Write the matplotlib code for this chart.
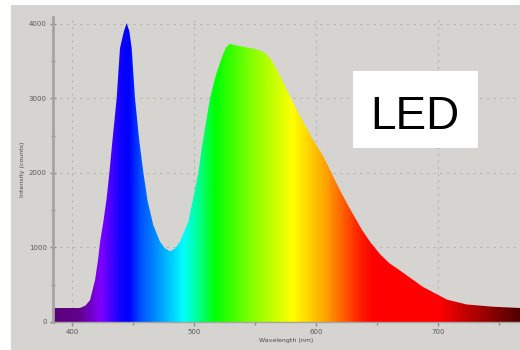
import matplotlib
matplotlib.use('Agg')
import matplotlib.pyplot as plt
import numpy as np
from matplotlib.colors import LinearSegmentedColormap, Normalize
from matplotlib.patches import Polygon, Rectangle
from matplotlib.ticker import MultipleLocator

# ===== DATA =====
wavelength = [384.4, 406.6, 411.0, 414.8, 418.9, 421.3, 423.0, 425.7, 428.4, 430.6,
              432.5, 436.6, 439.3, 442.5, 444.8, 447.0, 448.9, 451.6, 455.0, 458.5,
              462.0, 466.6, 472.1, 476.0, 480.3, 484.5, 488.5, 495.3, 499.4, 503.5,
              506.3, 513.1, 518.0, 522.7, 526.0, 529.5, 535.0, 541.8, 548.0, 554.1,
              559.0, 563.5, 568.5, 576.0, 584.2, 589.3, 597.0, 605.7, 611.5, 618.0,
              625.4, 637.7, 645.0, 652.5, 660.0, 668.9, 687.7, 707.4, 723.5, 745.0,
              767.2]
counts = [188, 188, 220, 295, 564, 832, 1078, 1346, 1664, 2000,
          2332, 3003, 3674, 3900, 4010, 3900, 3674, 3003, 2450, 2000,
          1620, 1300, 1078, 990, 950, 985, 1078, 1346, 1664, 2000,
          2332, 3003, 3320, 3544, 3680, 3735, 3710, 3690, 3670, 3645,
          3600, 3510, 3370, 3114, 2846, 2690, 2460, 2230, 2040, 1820,
          1590, 1235, 1060, 910, 790, 690, 470, 300, 235, 205,
          188]

y_ticks = [0, 1000, 2000, 3000, 4000]
x_ticks = [400, 500, 600, 700]

# colour of the spectrum along the wavelength axis
spec_stops = [(384, '#5a0078'), (406, '#62008e'), (423, '#8000ff'), (439, '#1000ff'),
              (446, '#0000ff'), (456, '#0050ff'), (472, '#00a0ff'), (491, '#00ffff'),
              (505, '#00ff80'), (517, '#00ff00'), (546, '#80ff00'), (581, '#ffff00'),
              (595, '#ffd000'), (609, '#ffa000'), (622, '#ff6000'), (636, '#ff2000'),
              (647, '#ff0000'), (702, '#ff0000'), (718, '#d00000'), (743, '#900000'),
              (768, '#500000')]

BG = '#d5d4d0'
W, H = 520, 350

fig = plt.figure(figsize=(5.2, 3.5), dpi=100)
fig.patch.set_facecolor('white')
fig.add_artist(Rectangle((11 / W, 0), 1, 345 / H, transform=fig.transFigure,
                         facecolor=BG, edgecolor='none', zorder=0))

ax = fig.add_axes([53 / W, 28 / H, 467 / W, (322 - 16.5) / H])
ax.set_facecolor(BG)

xmin, xmax = wavelength[0], wavelength[-1]
ymax = 4100
ax.set_xlim(xmin, xmax)
ax.set_ylim(0, ymax)

# ===== GRADIENT FILL CLIPPED BY THE CURVE =====
lo, hi = spec_stops[0][0], spec_stops[-1][0]
cmap = LinearSegmentedColormap.from_list(
    'spec', [((w - lo) / (hi - lo), c) for w, c in spec_stops])
xs = np.linspace(xmin, xmax, 1000)
im = ax.imshow(xs[np.newaxis, :], extent=[xmin, xmax, 0, ymax], aspect='auto',
               cmap=cmap, norm=Normalize(lo, hi), origin='lower', zorder=2,
               interpolation='bilinear')
verts = [(wavelength[0], 0)] + list(zip(wavelength, counts)) + [(wavelength[-1], 0)]
shape = Polygon(verts, closed=True, facecolor='none', edgecolor='none',
                transform=ax.transData)
ax.add_patch(shape)
im.set_clip_path(shape)

# ===== AXES DECORATION =====
ax.set_yticks(y_ticks)
ax.set_xticks(x_ticks)
ax.yaxis.set_minor_locator(MultipleLocator(500))
ax.xaxis.set_minor_locator(MultipleLocator(50))
ax.tick_params(axis='both', which='both', labelsize=5, colors='#8a8a8a',
               labelcolor='#5a5a5a', width=1)
ax.tick_params(axis='y', which='major', direction='inout', length=5, pad=2)
ax.tick_params(axis='y', which='minor', direction='inout', length=3)
ax.tick_params(axis='x', which='major', direction='out', length=3, pad=2)
ax.tick_params(axis='x', which='minor', direction='out', length=2)

ax.grid(True, which='major', color='#b4b4b0', linestyle=(0, (2, 4)), linewidth=0.8)
ax.set_axisbelow(True)

for s in ['top', 'right']:
    ax.spines[s].set_visible(False)
ax.spines['left'].set_color('#a4a4a0')
ax.spines['left'].set_linewidth(2)
ax.spines['bottom'].set_color('#a4a4a0')
ax.spines['bottom'].set_linewidth(1)

ax.set_ylabel('Intensity (counts)', fontsize=4.5, color='#4a4a4a')
ax.yaxis.set_label_coords((25 - 53) / 467, 0.5)
ax.set_xlabel('Wavelength (nm)', fontsize=4.5, color='#4a4a4a')
ax.xaxis.set_label_coords(0.5, -16 / 305.5)

# ===== LED LABEL =====
fig.add_artist(Rectangle((353 / W, 1 - 148 / H), 125 / W, 77 / H,
                         transform=fig.transFigure, facecolor='white',
                         edgecolor='none', zorder=5))
fig.text(415 / W, 1 - 129 / H, 'LED', fontsize=33, color='black',
         family=['Liberation Sans', 'DejaVu Sans'],
         ha='center', va='baseline', zorder=6)

plt.savefig('out.png', dpi=100)
plt.close()
